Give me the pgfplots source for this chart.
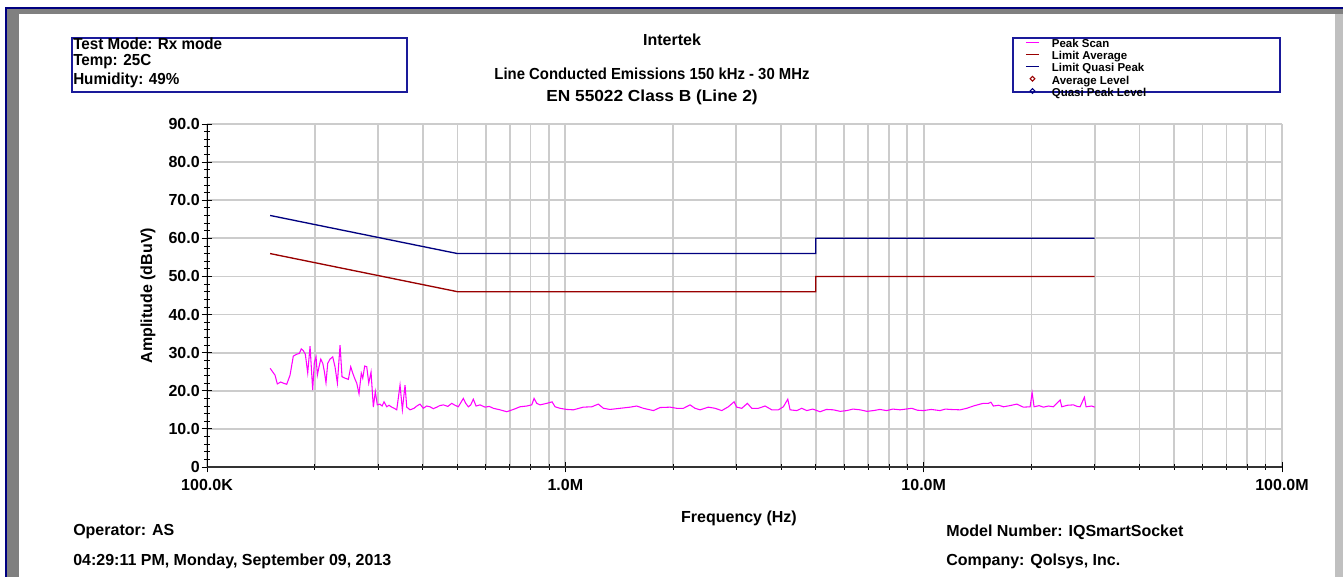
\documentclass[border=0pt]{standalone}
\usepackage{fontspec}
\setmainfont{Liberation Sans}
\usepackage{pgfplots}
\pgfplotsset{compat=1.18}
\usepackage{pgfplotstable}
\definecolor{navyb}{HTML}{000080}
\definecolor{maroonb}{HTML}{990000}
\definecolor{mag}{HTML}{FF00FF}
\definecolor{frameg}{HTML}{808080}
\definecolor{framel}{HTML}{C0C0C0}
\definecolor{gridg}{HTML}{CCCCCC}
\definecolor{boxb}{HTML}{1A1A9A}

\pgfplotstableread{
f db
150000 25.9
154800 24.1
157100 21.8
160600 22.3
163300 22.0
166900 21.7
170500 24.1
174100 29.1
178000 29.6
181000 29.8
183300 31.0
185700 30.5
188100 29.6
191000 24.7
193900 31.7
197200 20.2
199300 27.4
201500 28.9
203200 24.1
205400 26.3
207700 28.3
210400 27.2
212600 25.0
214800 22.1
217200 27.2
220400 28.3
224300 28.9
227600 26.3
231100 22.0
235100 32.0
238100 23.7
242800 23.3
248000 23.0
251800 26.3
255100 24.6
258900 23.0
261700 22.0
265600 19.2
269500 24.6
272000 23.3
275500 26.5
279100 26.3
282700 22.0
286900 24.9
291200 15.7
294900 19.8
298700 16.3
303900 16.5
308000 16.0
311900 17.1
317400 15.8
322000 16.2
327800 15.7
333000 15.4
338400 15.0
345700 21.5
350900 15.0
357000 21.5
360900 15.7
368700 15.0
378300 15.4
384900 16.0
393100 16.5
401500 15.4
410000 16.0
419200 15.8
428000 15.3
437700 15.7
446000 16.1
456600 16.3
470000 15.9
481900 16.7
492000 16.2
502800 15.8
519200 18.0
527200 16.7
536200 15.8
544500 16.3
553600 17.8
563400 16.0
578000 16.3
596900 15.7
613000 15.9
629700 15.4
657400 15.0
686300 14.5
716000 15.1
747500 15.8
780400 16.0
805800 16.3
817800 18.0
832200 16.7
850000 16.3
887400 16.7
918100 17.1
936000 15.8
966500 15.4
1009000 15.1
1053000 15.0
1122000 15.7
1185000 15.8
1236000 16.5
1277000 15.4
1333000 15.1
1421000 15.4
1516000 15.7
1582000 16.0
1651000 15.4
1761000 14.8
1838000 15.6
1960000 15.7
2046000 15.4
2135000 15.4
2228000 16.3
2301000 15.4
2377000 15.0
2507000 15.7
2617000 15.4
2732000 14.8
2850000 15.8
2957000 17.1
3009000 15.7
3107000 15.4
3221000 16.7
3314000 15.4
3457000 15.4
3609000 16.0
3768000 15.0
3931000 15.0
4059000 15.8
4176000 17.8
4238000 15.0
4424000 14.8
4569000 15.4
4718000 14.8
4900000 15.2
5138000 14.5
5350000 15.1
5598000 15.0
5850000 14.6
6102000 14.8
6350000 15.2
6645000 15.0
6950000 14.6
7238000 14.8
7550000 15.1
7889000 14.8
8200000 15.2
8594000 15.0
9265000 15.4
9600000 14.9
9980000 14.8
10500000 15.1
11110000 14.8
11500000 15.2
11850000 15.1
12640000 15.0
13190000 15.4
13760000 16.0
14370000 16.5
14680000 16.7
15160000 16.7
15400000 17.0
15650000 16.0
16200000 16.2
16700000 15.8
17400000 16.1
18190000 16.5
18980000 15.7
19820000 15.8
20070000 19.5
20330000 15.8
21000000 16.1
21590000 15.7
22300000 16.0
23010000 15.8
24030000 17.6
24290000 15.8
25200000 16.2
26170000 16.3
26800000 15.9
27320000 15.8
28090000 18.3
28390000 15.8
29450000 16.0
30000000 15.7
}\peakscan

\pgfplotstableread{
f db
150000 66
500000 56
5000000 56
5000000 60
30000000 60
}\limqp

\pgfplotstableread{
f db
150000 56
500000 46
5000000 46
5000000 50
30000000 50
}\limavg

\begin{document}
\begin{tikzpicture}[x=0.75pt,y=0.75pt]
% background and window frame
\fill[white] (0,0) rectangle (1343,577);
\useasboundingbox (0,0) rectangle (1343,577);
\fill[frameg] (7,0) rectangle (19,568);
\fill[frameg] (7,563) rectangle (1343,568);
\fill[framel] (1335,0) rectangle (1343,563);
\draw[navyb, line width=0.9pt] (6,0) -- (6,569) -- (1343,569);

% header boxes
\draw[boxb, line width=0.9pt] (72,539) rectangle (407,485);
\draw[boxb, line width=0.9pt] (1013,539) rectangle (1280,485);

\begin{scope}[every node/.style={inner sep=0pt, font=\fontsize{12}{12}\selectfont\bfseries}]
\node[anchor=west] at (73,533) {\scalebox{0.95}[1]{Test Mode: Rx mode}};
\node[anchor=west] at (73,515) {\scalebox{0.95}[1]{Temp: 25C}};
\node[anchor=west] at (73,497) {\scalebox{0.95}[1]{Humidity: 49\%}};
\node at (672,537) {Intertek};
\node at (652,503) {\scalebox{0.93}[1]{Line Conducted Emissions 150 kHz - 30 MHz}};
\node at (652,480) {\scalebox{1.08}[1]{EN 55022 Class B (Line 2)}};
\node[anchor=west] at (73,45) {Operator: AS};
\node[anchor=west] at (73,16) {04:29:11 PM, Monday, September 09, 2013};
\node[anchor=west] at (946,45) {Model Number: IQSmartSocket};
\node[anchor=west] at (946,16) {Company: Qolsys, Inc.};
\node at (739,59) {Frequency (Hz)};
\node[rotate=90] at (148,281.5) {Amplitude (dBuV)};
\end{scope}

\begin{axis}[
  at={(155.25pt,82.5pt)}, anchor=south west,
  scale only axis, width=806.25pt, height=257.25pt,
  xmode=log, xmin=1e5, xmax=1e8, ymin=0, ymax=90,
  xtick={1e5,1e6,1e7,1e8},
  xticklabels={100.0K,1.0M,10.0M,100.0M},
  minor xtick={2e5,3e5,4e5,5e5,6e5,7e5,8e5,9e5,2e6,3e6,4e6,5e6,6e6,7e6,8e6,9e6,2e7,3e7,4e7,5e7,6e7,7e7,8e7,9e7},
  ytick={0,10,20,30,40,50,60,70,80,90},
  yticklabels={0,10.0,20.0,30.0,40.0,50.0,60.0,70.0,80.0,90.0},
  minor ytick={2,4,6,8,12,14,16,18,22,24,26,28,32,34,36,38,42,44,46,48,52,54,56,58,62,64,66,68,72,74,76,78,82,84,86,88},
  xmajorgrids=true, xminorgrids=true, ymajorgrids=true, yminorgrids=false,
  major grid style={gridg, line width=1.3pt},
  minor grid style={gridg, line width=1.3pt},
  axis x line*=bottom, axis y line*=left,
  x axis line style={-, line width=1.4pt, black!80},
  y axis line style={-, line width=0.6pt, black},
  tick align=center,
  major tick length=8pt, minor tick length=4.5pt,
  tick style={black, line width=0.6pt},
  tick label style={font=\fontsize{12}{12}\selectfont\bfseries},
  yticklabel style={xshift=2pt},
  xticklabel style={yshift=-2pt},
  legend style={at={(0.761,1.2455)}, anchor=north west, draw=none, fill=none,
    inner sep=0pt, outer sep=0pt, row sep=1.3pt, column sep=9pt,
    font=\fontsize{8.6}{8.6}\selectfont\bfseries,
    nodes={inner sep=0pt, text height=6.1pt, text depth=1.6pt}},
  legend cell align=left,
]
\addplot[mag, line width=0.8pt, forget plot] table[x=f, y=db] {\peakscan};
\addplot[maroonb, line width=1pt, forget plot] table[x=f, y=db] {\limavg};
\addplot[navyb, line width=1pt, forget plot] table[x=f, y=db] {\limqp};
\addlegendimage{legend image code/.code={\draw[mag, line width=1.1pt] (0pt,1.8pt) -- (10pt,1.8pt);}}
\addlegendentry{Peak Scan}
\addlegendimage{legend image code/.code={\draw[maroonb, line width=1.1pt] (0pt,1.8pt) -- (10pt,1.8pt);}}
\addlegendentry{Limit Average}
\addlegendimage{legend image code/.code={\draw[navyb, line width=1.1pt] (0pt,1.8pt) -- (10pt,1.8pt);}}
\addlegendentry{Limit Quasi Peak}
\addlegendimage{legend image code/.code={\draw[maroonb, line width=0.8pt] (5pt,0pt) -- (6.8pt,1.8pt) -- (5pt,3.6pt) -- (3.2pt,1.8pt) -- cycle;}}
\addlegendentry{Average Level}
\addlegendimage{legend image code/.code={\draw[navyb, line width=0.8pt] (5pt,0pt) -- (6.8pt,1.8pt) -- (5pt,3.6pt) -- (3.2pt,1.8pt) -- cycle;}}
\addlegendentry{Quasi Peak Level}
\end{axis}
\end{tikzpicture}
\end{document}
